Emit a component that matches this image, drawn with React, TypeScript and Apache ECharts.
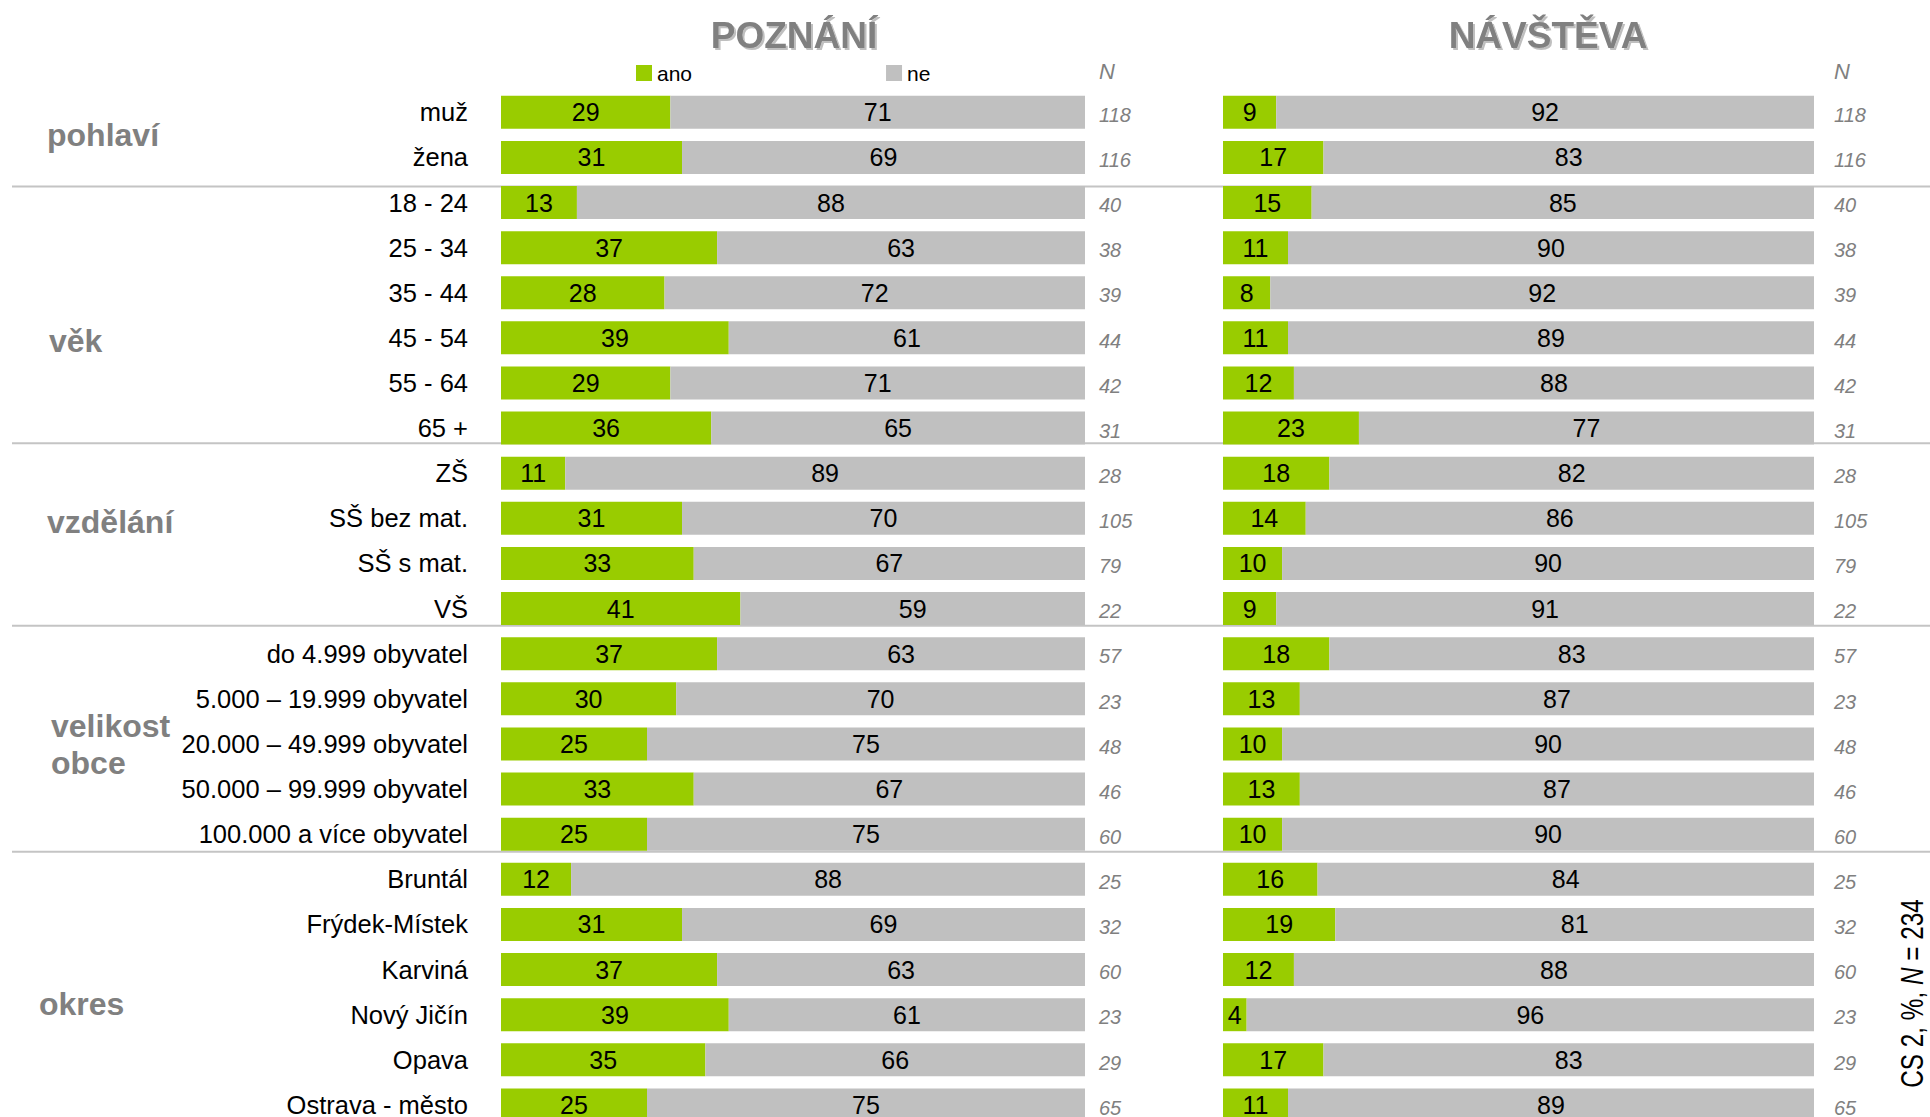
import React, { useEffect, useRef } from "react";
import * as echarts from "echarts";

const categories = [
  "muž", "žena",
  "18 - 24", "25 - 34", "35 - 44", "45 - 54", "55 - 64", "65 +",
  "ZŠ", "SŠ bez mat.", "SŠ s mat.", "VŠ",
  "do 4.999 obyvatel", "5.000 – 19.999 obyvatel", "20.000 – 49.999 obyvatel", "50.000 – 99.999 obyvatel", "100.000 a více obyvatel",
  "Bruntál", "Frýdek-Místek", "Karviná", "Nový Jičín", "Opava", "Ostrava - město",
];
const poznaniAno = [29, 31, 13, 37, 28, 39, 29, 36, 11, 31, 33, 41, 37, 30, 25, 33, 25, 12, 31, 37, 39, 35, 25];
const poznaniNe = [71, 69, 88, 63, 72, 61, 71, 65, 89, 70, 67, 59, 63, 70, 75, 67, 75, 88, 69, 63, 61, 66, 75];
const navstevaAno = [9, 17, 15, 11, 8, 11, 12, 23, 18, 14, 10, 9, 18, 13, 10, 13, 10, 16, 19, 12, 4, 17, 11];
const navstevaNe = [92, 83, 85, 90, 92, 89, 88, 77, 82, 86, 90, 91, 83, 87, 90, 87, 90, 84, 81, 88, 96, 83, 89];
const nValues = [118, 116, 40, 38, 39, 44, 42, 31, 28, 105, 79, 22, 57, 23, 48, 46, 60, 25, 32, 60, 23, 29, 65];
const groupNames = ["pohlaví", "věk", "vzdělání", "velikost", "obce", "okres"];
const panelTitles = ["POZNÁNÍ", "NÁVŠTĚVA"];
const seriesNames = ["ano", "ne"];
const noteText = "CS 2, %, {i|N} = 234";

const FONT = "'Liberation Sans', Arial, sans-serif";
const GREEN = "#99cc00";
const GREY = "#c0c0c0";
const LABEL_GREY = "#808080";

// layout (pixels)
const GRID_TOP = 89.7;
const GRID_H = 1037.8;
const groupPos = [
  [47, 134.5],
  [49, 341],
  [47, 522],
  [51, 725.5],
  [51, 763],
  [39, 1004],
];
const sepY = [186.5, 443.3, 625.7, 851.7];

export default function App() {
  const ref = useRef<HTMLDivElement>(null);
  useEffect(() => {
    if (!ref.current) return;
    const chart = echarts.init(ref.current, null, { renderer: "svg" });
    const valLabel = {
      show: true,
      position: "inside",
      color: "#000",
      fontSize: 25,
      fontFamily: FONT,
    };
    const nAxis = (gridIndex: number, margin: number) => ({
      type: "category",
      gridIndex,
      position: "right",
      inverse: true,
      data: categories,
      axisLine: { show: false },
      axisTick: { show: false },
      splitLine: { show: false },
      axisLabel: {
        show: true,
        margin,
        align: "left",
        verticalAlign: "top",
        lineHeight: 5.5,
        color: LABEL_GREY,
        fontStyle: "italic",
        fontSize: 20,
        fontFamily: FONT,
        formatter: (_v: string, i: number) => String(nValues[i]),
      },
    });
    const graphics: any[] = [];
    sepY.forEach((y) => {
      graphics.push({
        type: "line",
        shape: { x1: 12, y1: y, x2: 1930, y2: y },
        style: { stroke: "#c4c4c4", lineWidth: 2 },
        z: 0,
      });
    });
    groupNames.forEach((g, i) => {
      graphics.push({
        type: "text",
        x: groupPos[i][0],
        y: groupPos[i][1],
        style: {
          text: g,
          font: `bold 32px ${FONT}`,
          fill: LABEL_GREY,
          align: "left",
          verticalAlign: "middle",
        },
      });
    });
    [794, 1548].forEach((x, i) => {
      graphics.push({
        type: "text",
        x,
        y: 35,
        style: {
          text: panelTitles[i],
          font: `bold 37px ${FONT}`,
          fill: LABEL_GREY,
          align: "center",
          verticalAlign: "middle",
          textShadowColor: "rgba(0,0,0,0.25)",
          textShadowOffsetX: 2,
          textShadowOffsetY: 2,
          textShadowBlur: 1,
        },
      });
    });
    [1099, 1834].forEach((x) => {
      graphics.push({
        type: "text",
        x,
        y: 71,
        style: {
          text: "N",
          font: `italic 22px ${FONT}`,
          fill: LABEL_GREY,
          align: "left",
          verticalAlign: "middle",
        },
      });
    });
    graphics.push({
      type: "text",
      x: 1912,
      y: 993.5,
      rotation: Math.PI / 2,
      scaleX: 0.76,
      style: {
        text: noteText,
        font: `32px ${FONT}`,
        fill: "#000",
        align: "center",
        verticalAlign: "middle",
        rich: {
          i: { fontStyle: "italic", fontSize: 32, fontFamily: FONT, fill: "#000" },
        },
      },
    });

    chart.setOption({
      animation: false,
      backgroundColor: "#ffffff",
      legend: {
        left: 636,
        top: 62.5,
        padding: 0,
        itemWidth: 16,
        itemHeight: 16,
        itemGap: 194,
        icon: "rect",
        selectedMode: false,
        data: seriesNames,
        textStyle: { fontSize: 21, color: "#000", fontFamily: FONT },
      },
      grid: [
        { left: 501, width: 584, top: GRID_TOP, height: GRID_H },
        { left: 1223, width: 591, top: GRID_TOP, height: GRID_H },
      ],
      xAxis: [
        { type: "value", gridIndex: 0, min: 0, max: 100, show: false },
        { type: "value", gridIndex: 1, min: 0, max: 100, show: false },
      ],
      yAxis: [
        {
          type: "category",
          gridIndex: 0,
          inverse: true,
          data: categories,
          axisLine: { show: false },
          axisTick: { show: false },
          splitLine: { show: false },
          axisLabel: {
            margin: 33,
            color: "#000",
            fontSize: 25.5,
            fontFamily: FONT,
            interval: 0,
          },
        },
        nAxis(0, 14),
        {
          type: "category",
          gridIndex: 1,
          inverse: true,
          data: categories,
          axisLine: { show: false },
          axisTick: { show: false },
          axisLabel: { show: false },
        },
        nAxis(1, 20),
      ],
      series: [
        {
          name: seriesNames[0], type: "bar", stack: "L", xAxisIndex: 0, yAxisIndex: 0,
          barWidth: 33, data: poznaniAno, itemStyle: { color: GREEN }, label: valLabel,
        },
        {
          name: seriesNames[1], type: "bar", stack: "L", xAxisIndex: 0, yAxisIndex: 0,
          barWidth: 33, data: poznaniNe, itemStyle: { color: GREY }, label: valLabel,
        },
        {
          name: seriesNames[0], type: "bar", stack: "R", xAxisIndex: 1, yAxisIndex: 2,
          barWidth: 33, data: navstevaAno, itemStyle: { color: GREEN }, label: valLabel,
        },
        {
          name: seriesNames[1], type: "bar", stack: "R", xAxisIndex: 1, yAxisIndex: 2,
          barWidth: 33, data: navstevaNe, itemStyle: { color: GREY }, label: valLabel,
        },
      ],
      graphic: graphics,
    });
    return () => chart.dispose();
  }, []);
  return (
    <div
      style={{
        position: "fixed",
        left: 0,
        top: 0,
        width: 1930,
        height: 1117,
        overflow: "hidden",
        background: "#fff",
      }}
    >
      <div ref={ref} style={{ width: 1930, height: 1128 }} />
    </div>
  );
}
